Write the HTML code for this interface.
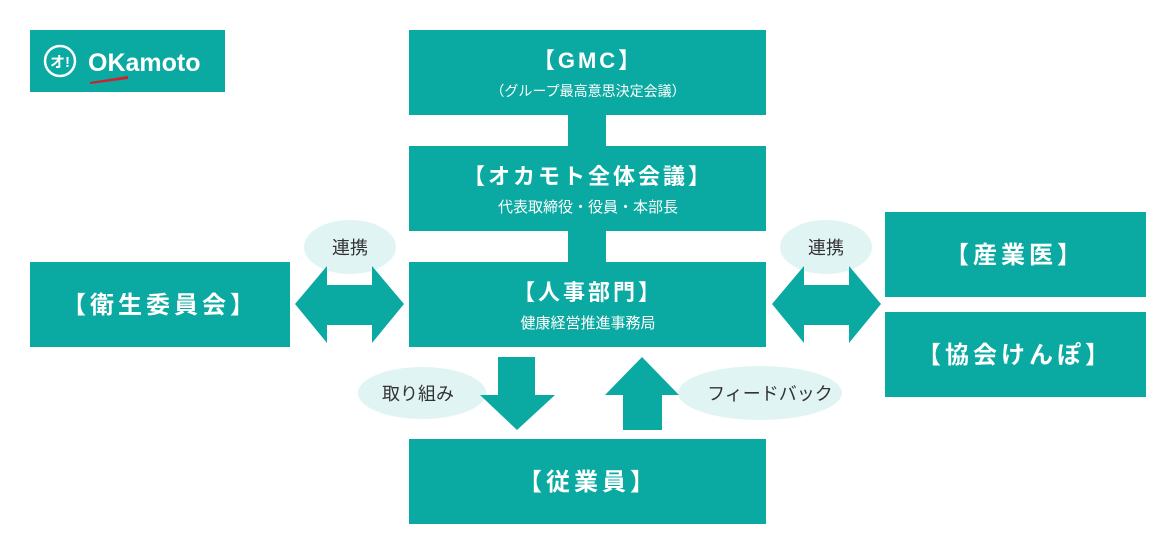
<!DOCTYPE html>
<html><head><meta charset="utf-8"><style>
body{margin:0;background:#fff;}
svg text{font-family:"Liberation Sans","Noto Sans CJK JP",sans-serif;}
</style></head><body>
<svg width="1176" height="554" viewBox="0 0 1176 554" xmlns="http://www.w3.org/2000/svg">
<rect width="1176" height="554" fill="#fff"/>
<g fill="#0aa9a2">
<rect x="30" y="30" width="195" height="62"/>
<rect x="409" y="30" width="357" height="85"/>
<rect x="568" y="115" width="38" height="31"/>
<rect x="409" y="146" width="357" height="85"/>
<rect x="568" y="231" width="38" height="31"/>
<rect x="409" y="262" width="357" height="85"/>
<rect x="409" y="439" width="357" height="85"/>
<rect x="30" y="262" width="260" height="85"/>
<rect x="885" y="212" width="261" height="85"/>
<rect x="885" y="312" width="261" height="85"/>
</g>
<g fill="#e1f4f4">
<ellipse cx="350" cy="247" rx="46" ry="27"/>
<ellipse cx="826" cy="247" rx="46" ry="27"/>
<ellipse cx="422" cy="393" rx="64" ry="26"/>
<ellipse cx="760" cy="393" rx="82" ry="27"/>
</g>
<g fill="#0aa9a2">
<polygon points="295,304 327,266 327,285 372,285 372,266 404,304 372,343 372,325 327,325 327,343"/>
<polygon points="772,304 804,266 804,285 849,285 849,266 881,304 849,343 849,325 804,325 804,343"/>
<polygon points="498,357 535,357 535,395 555,395 517,430 480,395 498,395"/>
<polygon points="623,430 662,430 662,395 679,395 642,357 605,395 623,395"/>
</g>
<circle cx="60" cy="61" r="15" fill="none" stroke="#fff" stroke-width="2.5"/>
<text x="60" y="67" fill="#fff" font-size="15" font-weight="bold" text-anchor="middle">オ!</text>
<text x="88" y="71" fill="#fff" font-size="25" font-weight="bold">OKamoto</text>
<polygon points="90,82 128,76 128,79 90,84" fill="#d0202a"/>
<g fill="#fff" text-anchor="middle" font-weight="bold">
<text x="588" y="68" font-size="22" letter-spacing="3">【GMC】</text>
<text x="588" y="96" font-size="14" font-weight="normal">（グループ最高意思決定会議）</text>
<text x="588" y="184" font-size="22" letter-spacing="3">【オカモト全体会議】</text>
<text x="588" y="212" font-size="15" font-weight="normal">代表取締役・役員・本部長</text>
<text x="588" y="300" font-size="22" letter-spacing="3">【人事部門】</text>
<text x="588" y="328" font-size="15" font-weight="normal">健康経営推進事務局</text>
<text x="588" y="490" font-size="24" letter-spacing="4">【従業員】</text>
<text x="160" y="313" font-size="24" letter-spacing="4">【衛生委員会】</text>
<text x="1015" y="263" font-size="24" letter-spacing="4">【産業医】</text>
<text x="1015" y="363" font-size="24" letter-spacing="4">【協会けんぽ】</text>
</g>
<g fill="#333" text-anchor="middle" font-size="18">
<text x="350" y="254">連携</text>
<text x="826" y="254">連携</text>
<text x="418" y="400">取り組み</text>
<text x="770" y="400">フィードバック</text>
</g>
</svg>
</body></html>
